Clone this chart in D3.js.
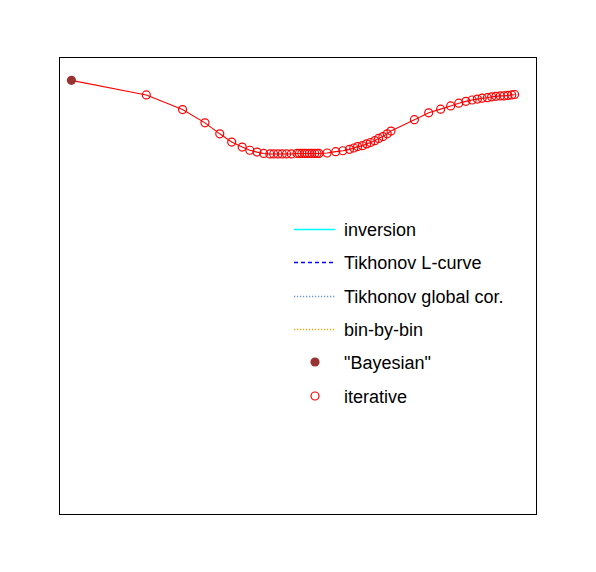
<!DOCTYPE html>
<html>
<head>
<meta charset="utf-8">
<script src="https://cdn.jsdelivr.net/npm/d3@7"></script>
<style>
  body { margin: 0; background: #fff; }
  svg { display: block; }
</style>
</head>
<body>
<div id="chart"></div>
<script>
// "Bayesian" point (arbitrary units, 0..100 on both axes)
const bayesX = [2.5]
const bayesY = [95.0]

// iterative points
const iterX = [18.2, 25.8, 30.5, 33.6, 36.1, 38.3, 39.9, 41.4, 42.8, 44.1,
  44.9, 45.8, 46.7, 47.6, 48.6, 49.8, 50.3, 50.8, 51.4, 51.9,
  52.4, 52.9, 53.5, 54.0, 54.4, 56.1, 57.9, 59.4, 60.8, 61.7,
  62.5, 63.5, 64.4, 65.2, 66.1, 66.9, 67.8, 68.7, 69.5, 74.4,
  77.4, 79.9, 82.0, 83.7, 85.2, 86.5, 87.6, 88.6, 89.7, 90.6,
  91.5, 92.4, 93.2, 94.0, 94.8, 95.4]
const iterY = [91.8, 88.6, 85.7, 83.3, 81.5, 80.4, 79.7, 79.3, 79.0, 78.9,
  78.9, 78.9, 78.9, 78.9, 78.9, 79.0, 79.0, 79.0, 79.0, 79.0,
  79.0, 79.0, 79.0, 79.0, 79.0, 79.1, 79.4, 79.6, 79.9, 80.2,
  80.5, 80.7, 81.1, 81.4, 81.8, 82.3, 82.7, 83.3, 83.9, 86.4,
  87.9, 88.7, 89.4, 90.0, 90.4, 90.7, 90.9, 91.1, 91.2, 91.4,
  91.5, 91.6, 91.6, 91.7, 91.8, 91.9]

const legendLabels = ["inversion", "Tikhonov L-curve", "Tikhonov global cor.",
  "bin-by-bin", "\"Bayesian\"", "iterative"]

const W = 596, H = 572
const FRAME = {x0: 59.5, y0: 57.5, x1: 536.5, y1: 514.5}

const svg = d3.select("#chart").append("svg")
  .attr("width", W).attr("height", H)

const x = d3.scaleLinear().domain([0, 100]).range([FRAME.x0, FRAME.x1])
const y = d3.scaleLinear().domain([0, 100]).range([FRAME.y1, FRAME.y0])

svg.append("rect")
  .attr("x", FRAME.x0).attr("y", FRAME.y0)
  .attr("width", FRAME.x1 - FRAME.x0).attr("height", FRAME.y1 - FRAME.y0)
  .attr("fill", "none").attr("stroke", "#000").attr("stroke-width", 1)

const bayes = bayesX.map((v, i) => [v, bayesY[i]])
const iter = iterX.map((v, i) => [v, iterY[i]])

svg.append("path")
  .datum(bayes.concat(iter))
  .attr("d", d3.line().x(d => x(d[0])).y(d => y(d[1])))
  .attr("fill", "none").attr("stroke", "#ff0000").attr("stroke-width", 1.1)

svg.append("g").selectAll("circle")
  .data(iter).join("circle")
  .attr("cx", d => x(d[0])).attr("cy", d => y(d[1]))
  .attr("r", 4)
  .attr("fill", "none").attr("stroke", "#ff0000").attr("stroke-width", 1.2)

svg.append("g").selectAll("circle")
  .data(bayes).join("circle")
  .attr("cx", d => x(d[0])).attr("cy", d => y(d[1]))
  .attr("r", 4.6)
  .attr("fill", "#993333")

// legend
const LEG = {x: 294, len: 41, y: 229, step: 33.3, tx: 344}
const styles = [
  {type: "line", color: "#00ffff", dash: null},
  {type: "line", color: "#0000ff", dash: "4,3"},
  {type: "line", color: "#6495ed", dash: "1.2,1.8"},
  {type: "line", color: "#ffa500", dash: "1.2,1.8"},
  {type: "dot"},
  {type: "ring"}
]

const leg = svg.append("g")
legendLabels.forEach((lab, i) => {
  const ly = Math.round(LEG.y + i * LEG.step)
  const s = styles[i]
  if (s.type === "line") {
    leg.append("line")
      .attr("x1", LEG.x).attr("x2", LEG.x + LEG.len)
      .attr("y1", ly + 0.5).attr("y2", ly + 0.5)
      .attr("stroke", s.color).attr("stroke-width", 1.4)
      .attr("stroke-dasharray", s.dash)
  } else if (s.type === "dot") {
    leg.append("circle").attr("cx", 315).attr("cy", ly).attr("r", 4.6)
      .attr("fill", "#993333")
  } else {
    leg.append("circle").attr("cx", 315).attr("cy", ly).attr("r", 4)
      .attr("fill", "none").attr("stroke", "#ff0000").attr("stroke-width", 1.2)
  }
  leg.append("text")
    .attr("x", LEG.tx).attr("y", ly + 6.5)
    .text(lab)
    .attr("fill", "#000")
    .style("font-family", "'Liberation Sans', Arial, sans-serif")
    .style("font-size", "18px")
})
</script>
</body>
</html>
